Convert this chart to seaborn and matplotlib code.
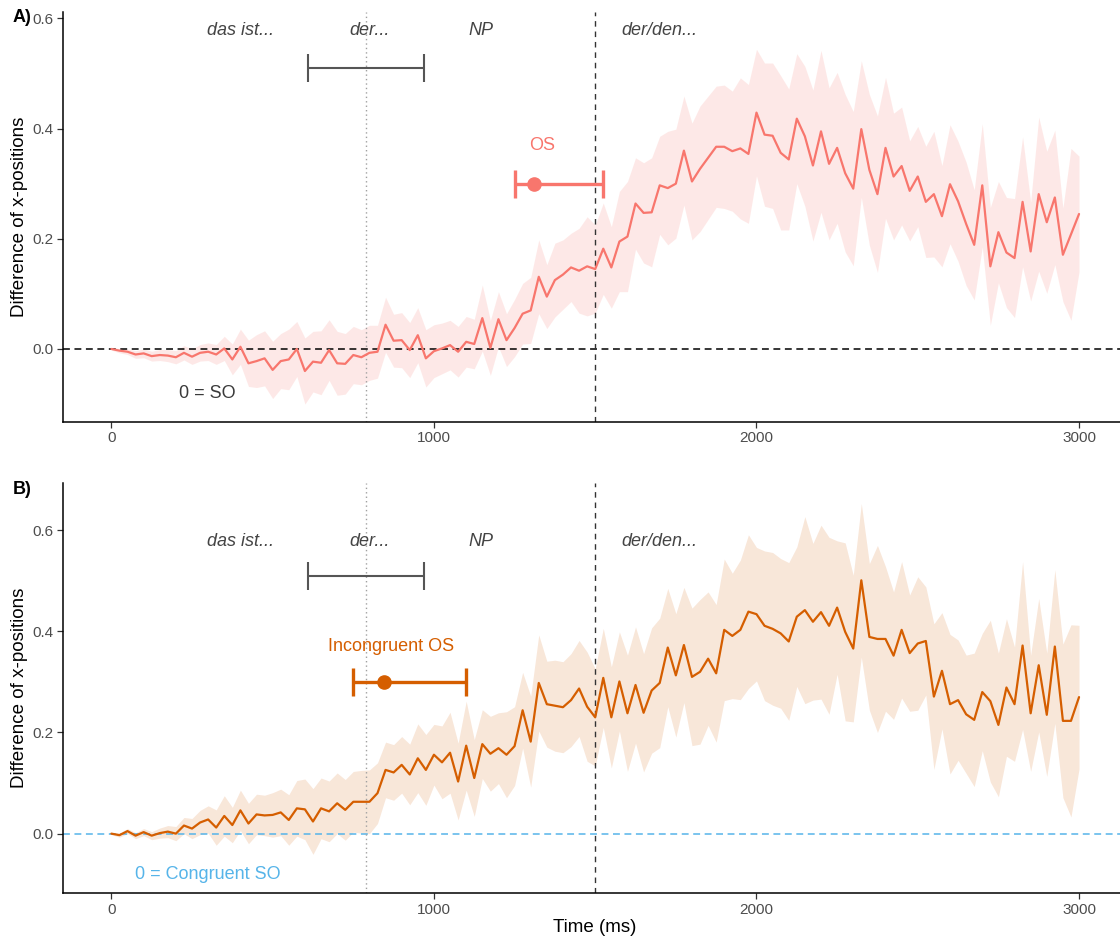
import numpy as np
import pandas as pd
import matplotlib
matplotlib.use("Agg")
import matplotlib.pyplot as plt
import seaborn as sns

# ---------------------------------------------------------------- data
time_ms = np.arange(0, 3001, 25)

# A) OS minus SO: mean difference and CI half-width per 25 ms bin
os_mean = [
    0.000, -0.003, -0.005, -0.010, -0.008, -0.013, -0.011, -0.012, -0.015, -0.007,
    -0.014, -0.007, -0.005, -0.010, 0.001, -0.019, 0.004, -0.026, -0.022, -0.017,
    -0.038, -0.022, -0.019, 0.000, -0.040, -0.023, -0.025, -0.002, -0.026, -0.027,
    -0.011, -0.015, -0.007, -0.005, 0.044, 0.015, 0.016, -0.002, 0.025, -0.017,
    -0.004, 0.001, 0.007, -0.005, 0.013, 0.009, 0.056, 0.002, 0.054, 0.016,
    0.038, 0.064, 0.070, 0.131, 0.095, 0.125, 0.135, 0.148, 0.142, 0.150,
    0.145, 0.182, 0.148, 0.195, 0.204, 0.264, 0.247, 0.248, 0.297, 0.292,
    0.300, 0.360, 0.304, 0.327, 0.347, 0.367, 0.367, 0.359, 0.364, 0.354,
    0.429, 0.389, 0.387, 0.356, 0.344, 0.418, 0.386, 0.333, 0.395, 0.336,
    0.365, 0.319, 0.291, 0.399, 0.325, 0.281, 0.365, 0.313, 0.332, 0.287,
    0.313, 0.267, 0.281, 0.241, 0.299, 0.268, 0.227, 0.189, 0.297, 0.150,
    0.212, 0.175, 0.165, 0.267, 0.177, 0.281, 0.230, 0.275, 0.171, 0.208,
    0.245,
]
os_ci = [
    0.002, 0.004, 0.005, 0.007, 0.008, 0.009, 0.010, 0.011, 0.012, 0.013,
    0.014, 0.015, 0.016, 0.018, 0.022, 0.028, 0.032, 0.042, 0.048, 0.050,
    0.052, 0.050, 0.055, 0.050, 0.060, 0.055, 0.058, 0.055, 0.058, 0.055,
    0.052, 0.050, 0.050, 0.048, 0.050, 0.048, 0.050, 0.050, 0.050, 0.052,
    0.048, 0.046, 0.045, 0.046, 0.046, 0.045, 0.060, 0.050, 0.050, 0.048,
    0.052, 0.055, 0.060, 0.067, 0.058, 0.067, 0.063, 0.062, 0.077, 0.090,
    0.080, 0.083, 0.074, 0.091, 0.100, 0.083, 0.091, 0.099, 0.089, 0.103,
    0.099, 0.099, 0.106, 0.114, 0.112, 0.110, 0.112, 0.109, 0.128, 0.126,
    0.115, 0.130, 0.132, 0.140, 0.128, 0.118, 0.127, 0.137, 0.147, 0.138,
    0.137, 0.143, 0.140, 0.124, 0.137, 0.142, 0.128, 0.115, 0.107, 0.091,
    0.091, 0.101, 0.114, 0.092, 0.108, 0.109, 0.112, 0.100, 0.112, 0.107,
    0.092, 0.100, 0.108, 0.118, 0.090, 0.140, 0.129, 0.122, 0.085, 0.156,
    0.105,
]

# B) incongruent OS minus congruent SO
inc_mean = [
    0.000, -0.003, 0.005, -0.004, 0.003, -0.004, 0.001, 0.004, 0.000, 0.016,
    0.010, 0.022, 0.028, 0.012, 0.035, 0.017, 0.046, 0.020, 0.038, 0.036,
    0.037, 0.042, 0.027, 0.050, 0.048, 0.024, 0.050, 0.044, 0.060, 0.047,
    0.063, 0.063, 0.063, 0.080, 0.126, 0.121, 0.136, 0.117, 0.149, 0.126,
    0.156, 0.141, 0.160, 0.103, 0.174, 0.110, 0.177, 0.158, 0.169, 0.156,
    0.173, 0.244, 0.182, 0.298, 0.256, 0.253, 0.250, 0.264, 0.287, 0.251,
    0.230, 0.308, 0.230, 0.301, 0.238, 0.294, 0.239, 0.283, 0.298, 0.368,
    0.313, 0.373, 0.310, 0.320, 0.346, 0.317, 0.403, 0.391, 0.403, 0.439,
    0.434, 0.411, 0.405, 0.396, 0.380, 0.429, 0.442, 0.419, 0.438, 0.411,
    0.447, 0.399, 0.366, 0.501, 0.389, 0.385, 0.385, 0.352, 0.403, 0.357,
    0.376, 0.381, 0.271, 0.322, 0.256, 0.264, 0.236, 0.225, 0.280, 0.262,
    0.215, 0.289, 0.256, 0.372, 0.238, 0.333, 0.235, 0.370, 0.223, 0.223,
    0.270,
]
inc_ci = [
    0.002, 0.004, 0.005, 0.006, 0.007, 0.008, 0.010, 0.012, 0.014, 0.016,
    0.020, 0.024, 0.027, 0.035, 0.040, 0.035, 0.040, 0.040, 0.040, 0.040,
    0.044, 0.046, 0.050, 0.055, 0.060, 0.065, 0.060, 0.060, 0.060, 0.060,
    0.060, 0.062, 0.063, 0.060, 0.055, 0.055, 0.056, 0.060, 0.068, 0.070,
    0.060, 0.072, 0.080, 0.076, 0.088, 0.076, 0.068, 0.074, 0.070, 0.085,
    0.078, 0.075, 0.090, 0.095, 0.085, 0.090, 0.090, 0.092, 0.095, 0.108,
    0.096, 0.098, 0.100, 0.098, 0.115, 0.115, 0.117, 0.124, 0.128, 0.117,
    0.122, 0.114, 0.136, 0.143, 0.132, 0.136, 0.140, 0.124, 0.138, 0.152,
    0.132, 0.148, 0.151, 0.148, 0.156, 0.138, 0.185, 0.155, 0.172, 0.175,
    0.132, 0.176, 0.145, 0.152, 0.145, 0.185, 0.143, 0.126, 0.135, 0.115,
    0.132, 0.107, 0.144, 0.115, 0.138, 0.119, 0.117, 0.132, 0.116, 0.160,
    0.142, 0.136, 0.113, 0.166, 0.115, 0.132, 0.122, 0.152, 0.152, 0.190,
    0.142,
]

# sentence regions shown above the curves
region_labels = ["das ist...", "der...", "NP", "der/den..."]
region_x = [400, 800, 1145, 1700]
region_y = 0.578

# determiner onset (mean and range) and the critical word onset
det_mean, det_lo, det_hi = 790, 610, 970
det_y = 0.51
crit_onset = 1500

# divergence points with their intervals
os_point, os_lo, os_hi = 1310, 1250, 1525
inc_point, inc_lo, inc_hi = 845, 750, 1100
point_y = 0.30

# ---------------------------------------------------------------- style
sns.set_theme(style="white")
plt.rcParams["font.family"] = ["Liberation Sans", "DejaVu Sans"]

W, H = 1120, 938
fig = plt.figure(figsize=(W / 100, H / 100), dpi=100)

def px_axes(left, top, right, bottom):
    return fig.add_axes([left / W, 1 - bottom / H, (right - left) / W, (bottom - top) / H])

axA = px_axes(63, 12, 1120, 421.7)
axB = px_axes(63, 482.7, 1120, 893.3)

panels = [
    dict(ax=axA, mean=os_mean, ci=os_ci, color="#F8766D", alpha=0.16,
         ylim=(-0.132, 0.6116), zero_color="black", zero_text="0 = SO",
         zero_text_color="#3A3A3A", pt=os_point, lo=os_lo, hi=os_hi,
         pt_label="OS", pt_label_x=1335, tag="A)", tag_y=18),
    dict(ax=axB, mean=inc_mean, ci=inc_ci, color="#D55E00", alpha=0.15,
         ylim=(-0.118, 0.694), zero_color="#56B4E9", zero_text="0 = Congruent SO",
         zero_text_color="#56B4E9", pt=inc_point, lo=inc_lo, hi=inc_hi,
         pt_label="Incongruent OS", pt_label_x=868, tag="B)", tag_y=490),
]

for p in panels:
    ax = p["ax"]
    mean = np.array(p["mean"])
    ci = np.array(p["ci"])
    df = pd.DataFrame({"time": time_ms, "diff": mean})

    ax.fill_between(time_ms, mean - ci, mean + ci, color=p["color"],
                    alpha=p["alpha"], linewidth=0, zorder=1)
    ax.axhline(0, color=p["zero_color"], lw=1.1, dashes=(4.5, 3), zorder=2)
    ax.axvline(det_mean, color="#A0A0A0", lw=1.0, ls=(0, (1, 2.2)), zorder=2)
    ax.axvline(crit_onset, color="#333333", lw=1.0, dashes=(4, 3.5), zorder=2)
    sns.lineplot(data=df, x="time", y="diff", ax=ax, color=p["color"],
                 lw=1.6, zorder=3, legend=False)

    # determiner region bar
    ax.errorbar(det_mean, det_y, xerr=[[det_mean - det_lo], [det_hi - det_mean]],
                fmt="none", ecolor="#555555", elinewidth=1.5, capsize=10,
                capthick=1.5, zorder=4)
    # divergence point with interval
    ax.errorbar(p["pt"], point_y, xerr=[[p["pt"] - p["lo"]], [p["hi"] - p["pt"]]],
                fmt="o", color=p["color"], ms=9.5, elinewidth=2.4, capsize=10,
                capthick=2.4, zorder=5)
    ax.text(p["pt_label_x"], 0.37, p["pt_label"], color=p["color"], fontsize=13,
            ha="center", va="center")

    for lab, xx in zip(region_labels, region_x):
        ax.text(xx, region_y, lab, fontsize=13, style="italic", color="#444444",
                ha="center", va="center")
    ax.text(298, -0.081, p["zero_text"], fontsize=13, color=p["zero_text_color"],
            ha="center", va="center")

    ax.set_xlim(-150, 3127)
    ax.set_ylim(*p["ylim"])
    ax.set_xticks([0, 1000, 2000, 3000])
    ax.set_yticks([0, 0.2, 0.4, 0.6])
    ax.set_yticklabels(["0.0", "0.2", "0.4", "0.6"])
    ax.set_xlabel("")
    ax.set_ylabel("")
    ax.tick_params(axis="both", which="major", length=4, width=0.9,
                   color="#333333", labelcolor="#4D4D4D", labelsize=11,
                   direction="out", pad=3, bottom=True, left=True)
    sns.despine(ax=ax)
    for side in ("left", "bottom"):
        ax.spines[side].set_color("black")
        ax.spines[side].set_linewidth(1.1)

    fig.text(13 / W, 1 - p["tag_y"] / H, p["tag"], fontsize=13, fontweight="bold",
             ha="left", va="center", color="black")
    pos = ax.get_position()
    fig.text(20 / W, pos.y0 + pos.height / 2, "Difference of x-positions",
             rotation=90, fontsize=13.5, ha="center", va="center", color="black")

fig.text(595 / W, 1 - 927 / H, "Time (ms)", fontsize=13.5, ha="center",
         va="center", color="black")

fig.savefig("out.png", dpi=100, facecolor="white")
